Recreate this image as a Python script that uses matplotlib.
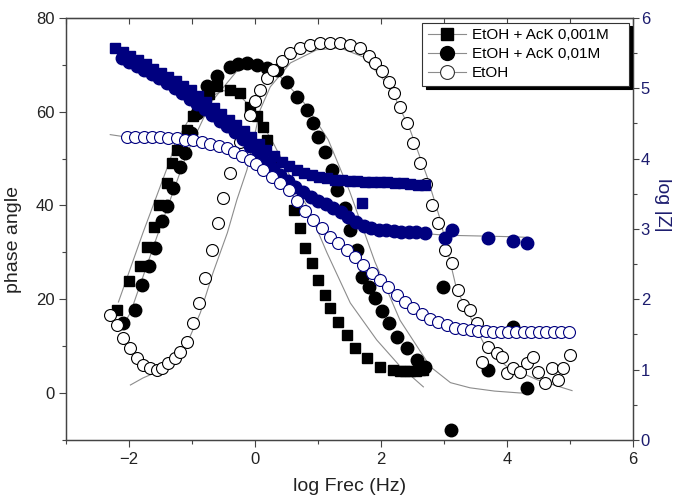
import matplotlib
matplotlib.use("Agg")
import matplotlib.pyplot as plt
from matplotlib.lines import Line2D
from matplotlib.ticker import MultipleLocator

plt.rcParams['font.family'] = ['Liberation Sans', 'DejaVu Sans']

# ---------------- data (left axis: phase angle) ----------------
# EtOH + AcK 0,001M (filled squares)
sq_x = [-2.20, -2.01, -1.83, -1.72, -1.61, -1.53, -1.40, -1.32, -1.24, -1.08, -0.98, -0.85, -0.73,
        -0.61, -0.40, -0.24, -0.08, 0.03, 0.13, 0.19, 0.30, 0.42, 0.61, 0.71, 0.79, 0.90, 1.00,
        1.11, 1.19, 1.32, 1.46, 1.59, 1.77, 1.98, 2.19, 2.30, 2.38, 2.46, 2.55, 2.62, 2.67]
sq_ph = [17.7, 23.8, 27.0, 31.2, 35.5, 40.1, 44.8, 49.0, 51.9, 56.1, 59.0, 61.5, 63.8,
         65.4, 64.6, 64.0, 61.1, 59.0, 56.8, 54.0, 50.0, 45.0, 39.1, 35.2, 30.9, 27.7, 24.1,
         20.9, 18.1, 15.2, 12.4, 9.6, 7.4, 5.6, 4.9, 4.7, 4.6, 4.6, 4.7, 4.8, 4.9]

# EtOH + AcK 0,01M (filled circles)
ci_x = [-2.09, -1.90, -1.80, -1.69, -1.59, -1.48, -1.40, -1.30, -1.19, -1.11, -1.02, -0.93, -0.77,
        -0.61, -0.40, -0.27, -0.13, 0.03, 0.19, 0.35, 0.51, 0.67, 0.83, 0.92, 1.00, 1.11, 1.22,
        1.30, 1.43, 1.51, 1.61, 1.69, 1.80, 1.90, 2.01, 2.12, 2.25, 2.41, 2.57, 2.70,
        2.98, 3.11, 3.70, 4.10, 4.32]
ci_ph = [14.9, 17.7, 23.1, 27.0, 30.9, 36.6, 39.8, 43.7, 48.3, 51.2, 55.5, 59.7, 65.4,
         67.5, 69.6, 70.1, 70.3, 70.0, 69.3, 68.9, 66.4, 63.2, 60.4, 57.6, 54.6, 51.3, 47.6,
         43.3, 39.4, 34.8, 30.5, 24.8, 22.5, 20.2, 17.4, 14.9, 12.0, 9.6, 7.1, 5.6,
         22.5, -7.8, 5.0, 14.0, 1.0]

# EtOH (open circles)
et_x = [-2.30, -2.19, -2.10, -1.98, -1.87, -1.78, -1.67, -1.56, -1.48, -1.38, -1.27, -1.19, -1.08,
        -0.98, -0.89, -0.79, -0.68, -0.59, -0.51, -0.40, -0.24, -0.08, 0.00, 0.08, 0.19, 0.29,
        0.42, 0.56, 0.71, 0.87, 1.03, 1.19, 1.35, 1.51, 1.67, 1.80, 1.90, 2.01, 2.12, 2.20,
        2.30, 2.41, 2.51, 2.62, 2.71, 2.80, 2.91, 3.02, 3.13, 3.22, 3.30, 3.41, 3.52, 3.60,
        3.70, 3.84, 3.92, 4.00, 4.10, 4.20, 4.32, 4.41, 4.49, 4.60, 4.71, 4.81, 4.89, 5.00]
et_ph = [16.7, 14.5, 11.8, 9.6, 7.5, 6.0, 5.4, 5.0, 5.4, 6.4, 7.5, 8.8, 10.9,
         15.0, 19.2, 24.6, 30.5, 36.3, 41.6, 47.0, 53.5, 59.3, 62.2, 64.6, 67.1, 68.9,
         70.7, 72.5, 73.5, 74.2, 74.6, 74.7, 74.6, 74.2, 73.5, 71.8, 70.3, 68.6, 66.4, 63.9,
         61.1, 57.5, 53.3, 49.0, 44.5, 40.1, 36.2, 30.5, 27.8, 22.0, 18.8, 17.7, 15.0, 6.7,
         9.9, 8.6, 7.7, 4.3, 5.4, 4.5, 6.4, 7.7, 4.5, 2.2, 5.4, 2.8, 5.4, 8.1]

# fitted curves (phase)
fit_sq_x = [-2.17, -1.78, -1.35, -1.27, -1.0, -0.75, -0.5, -0.25, 0.0, 0.3, 0.6, 0.83, 1.14,
            1.51, 1.93, 2.30, 2.67]
fit_sq_y = [19.4, 34.2, 49.7, 53.3, 59.5, 63.0, 64.5, 63.5, 60.0, 53.0, 45.0, 39.7, 29.9,
            19.2, 11.3, 5.7, 1.3]
fit_ci_x = [-2.05, -1.98, -1.56, -1.08, -0.7, -0.3, 0.0, 0.4, 0.8, 1.16, 1.5, 1.9, 2.3, 2.78,
            3.10, 3.41, 3.8, 4.2, 4.32]
fit_ci_y = [15.5, 17.1, 33.3, 51.2, 62.0, 68.5, 70.0, 67.5, 61.5, 54.0, 43.0, 28.0, 15.5, 5.6,
            2.2, 1.1, 0.4, 0.0, 0.0]
fit_et_x = [-1.98, -1.78, -1.35, -1.08, -0.87, -0.67, -0.44, -0.29, -0.13, 0.08, 0.24, 0.56,
            0.98, 1.35, 1.71, 2.14, 2.46, 2.73, 2.94, 3.20, 3.68, 4.00, 4.48, 5.03]
fit_et_y = [1.7, 3.2, 5.7, 10.6, 17.1, 25.6, 34.2, 41.2, 47.6, 60.4, 65.3, 70.4,
            73.2, 73.6, 71.7, 65.3, 56.1, 46.1, 36.9, 22.0, 9.2, 5.6, 2.8, 0.5]

# ---------------- data (right axis: log|Z|) ----------------
zsq_x = [-2.22, -2.10, -1.98, -1.86, -1.74, -1.62, -1.50, -1.38, -1.26, -1.14, -1.02, -0.90, -0.78,
         -0.66, -0.54, -0.42, -0.30, -0.18, -0.06, 0.06, 0.18, 0.30, 0.42, 0.54, 0.66, 0.78,
         0.90, 1.02, 1.14, 1.26, 1.38, 1.50, 1.62, 1.70, 1.74, 1.86, 1.98, 2.10, 2.22, 2.34,
         2.46, 2.58, 2.70]
zsq_y = [5.57, 5.52, 5.46, 5.40, 5.34, 5.28, 5.22, 5.16, 5.10, 5.03, 4.97, 4.89, 4.81,
         4.72, 4.63, 4.55, 4.47, 4.39, 4.30, 4.21, 4.12, 4.03, 3.95, 3.89, 3.84, 3.80,
         3.77, 3.74, 3.72, 3.70, 3.69, 3.68, 3.68, 3.37, 3.67, 3.67, 3.66, 3.66, 3.65, 3.65,
         3.64, 3.63, 3.62]

zci_x = [-2.12, -2.00, -1.88, -1.76, -1.64, -1.52, -1.40, -1.28, -1.16, -1.04, -0.92, -0.80, -0.68,
         -0.56, -0.44, -0.32, -0.20, -0.08, 0.04, 0.16, 0.28, 0.40, 0.52, 0.64, 0.76, 0.88,
         1.00, 1.12, 1.24, 1.36, 1.48, 1.60, 1.72, 1.84, 1.96, 2.08, 2.20, 2.32, 2.44, 2.56,
         2.70, 3.02, 3.13, 3.70, 4.10, 4.32]
zci_y = [5.43, 5.37, 5.32, 5.26, 5.20, 5.14, 5.07, 5.01, 4.93, 4.85, 4.77, 4.70, 4.62,
         4.54, 4.46, 4.38, 4.28, 4.18, 4.08, 3.97, 3.87, 3.77, 3.68, 3.60, 3.53, 3.46,
         3.40, 3.35, 3.30, 3.24, 3.17, 3.10, 3.04, 3.01, 2.99, 2.98, 2.97, 2.96, 2.95, 2.95,
         2.94, 2.87, 2.98, 2.87, 2.83, 2.80]

zet_x = [-2.04, -1.90, -1.77, -1.64, -1.51, -1.38, -1.24, -1.11, -0.98, -0.85, -0.71, -0.58, -0.45,
         -0.34, -0.21, -0.08, 0.02, 0.13, 0.27, 0.40, 0.53, 0.67, 0.79, 0.92, 1.06, 1.19,
         1.32, 1.46, 1.59, 1.71, 1.86, 1.98, 2.11, 2.25, 2.38, 2.51, 2.65, 2.78, 2.91, 3.04,
         3.17, 3.30, 3.42, 3.54, 3.66, 3.78, 3.90, 4.02, 4.14, 4.26, 4.38, 4.50, 4.62, 4.74,
         4.86, 4.98]
zet_y = [4.31, 4.31, 4.31, 4.30, 4.30, 4.29, 4.29, 4.27, 4.26, 4.24, 4.21, 4.18, 4.15,
         4.10, 4.04, 3.98, 3.92, 3.84, 3.74, 3.65, 3.55, 3.40, 3.26, 3.13, 3.01, 2.89,
         2.80, 2.70, 2.60, 2.49, 2.37, 2.27, 2.17, 2.06, 1.96, 1.87, 1.79, 1.72, 1.67, 1.63,
         1.59, 1.57, 1.56, 1.55, 1.55, 1.54, 1.54, 1.54, 1.53, 1.53, 1.53, 1.53, 1.53, 1.53,
         1.53, 1.53]

# fitted curves (log|Z|)
zfit_et_x = [-2.30, -2.0, -1.5, -1.0, -0.5, 0.0, 0.5, 1.0, 1.5, 2.0, 2.5, 3.0, 3.5, 4.0, 4.5, 5.03]
zfit_et_y = [4.34, 4.30, 4.28, 4.24, 4.14, 3.93, 3.57, 3.06, 2.67, 2.25, 1.88, 1.65, 1.56, 1.54, 1.53, 1.53]
zfit_ci_x = [-2.12, -1.5, -1.0, -0.5, 0.0, 0.5, 1.0, 1.5, 2.0, 2.5, 3.0, 3.5, 4.0, 4.32]
zfit_ci_y = [5.43, 5.13, 4.83, 4.50, 4.12, 3.70, 3.40, 3.16, 2.99, 2.95, 2.91, 2.90, 2.89, 2.88]

labels = ['EtOH + AcK 0,001M', 'EtOH + AcK 0,01M', 'EtOH']

# ---------------- plotting ----------------
fig = plt.figure(figsize=(6.75, 4.97), dpi=100)
ax = fig.add_axes([0.098, 0.115, 0.840, 0.849])
ax2 = ax.twinx()

navy = '#00007f'
fitc = '#8c8c8c'
spc = '#444444'

# fits (phase)
ax.plot(fit_sq_x, fit_sq_y, color=fitc, lw=0.8, zorder=1)
ax.plot(fit_ci_x, fit_ci_y, color=fitc, lw=0.8, zorder=1)
ax.plot(fit_et_x, fit_et_y, color=fitc, lw=0.8, zorder=1)

ax.plot(sq_x, sq_ph, ls='none', marker='s', ms=7.5, mfc='black', mec='black', zorder=2)
ax.plot(ci_x, ci_ph, ls='none', marker='o', ms=9, mfc='black', mec='black', zorder=3)
ax.plot(et_x, et_ph, ls='none', marker='o', ms=8.6, mfc='white', mec='black', mew=0.8, zorder=4)

# log|Z|
ax2.plot(zfit_et_x, zfit_et_y, color=fitc, lw=0.8, zorder=1)
ax2.plot(zfit_ci_x, zfit_ci_y, color=fitc, lw=0.8, zorder=1)
ax2.plot(zci_x, zci_y, ls='none', marker='o', ms=9, mfc=navy, mec=navy, zorder=2)
ax2.plot(zsq_x, zsq_y, ls='none', marker='s', ms=7.5, mfc=navy, mec=navy, zorder=3)
ax2.plot(zet_x, zet_y, ls='none', marker='o', ms=8.6, mfc='white', mec=navy, mew=0.8, zorder=4)

# axes limits / ticks
ax.set_xlim(-3, 6)
ax.set_ylim(-10, 80)
ax2.set_ylim(0, 6)
ax.xaxis.set_major_locator(MultipleLocator(2))
ax.xaxis.set_minor_locator(MultipleLocator(1))
ax.yaxis.set_major_locator(MultipleLocator(20))
ax.yaxis.set_minor_locator(MultipleLocator(10))
ax2.yaxis.set_major_locator(MultipleLocator(1))
ax2.yaxis.set_minor_locator(MultipleLocator(0.5))

ax.tick_params(axis='both', which='major', direction='out', length=5, width=0.8,
               colors=spc, labelsize=12, labelcolor='#222222')
ax.tick_params(axis='both', which='minor', direction='out', length=3, width=0.8, colors=spc)
ax2.tick_params(axis='y', which='major', direction='out', length=4, width=0.8,
                colors=spc, labelsize=12, labelcolor='#1c1c6e', pad=1.5)
ax2.tick_params(axis='y', which='minor', direction='out', length=3, width=0.8, colors=spc)

top = ax.secondary_xaxis('top')
top.xaxis.set_major_locator(MultipleLocator(2))
top.xaxis.set_minor_locator(MultipleLocator(1))
top.tick_params(which='both', direction='in', length=4, width=0.8, colors=spc, labeltop=False)

for a in (ax, ax2):
    for s in a.spines.values():
        s.set_color(spc)
        s.set_linewidth(0.9)
top.spines['top'].set_color(spc)

ax.set_xlabel('log Frec (Hz)', fontsize=14, color='#222222', labelpad=8)
ax.set_ylabel('phase angle', fontsize=14, color='#222222')
ax.yaxis.set_label_coords(-0.078, 0.474)
ax2.set_ylabel('log |Z|', fontsize=14, color='#1c1c6e', rotation=270, va='center', ha='center')
ax2.yaxis.set_label_coords(1.052, 0.557)

# legend
handles = [
    Line2D([0], [0], color=fitc, lw=0.8, marker='s', ms=9, mfc='black', mec='black'),
    Line2D([0], [0], color=fitc, lw=0.8, marker='o', ms=10, mfc='black', mec='black'),
    Line2D([0], [0], color=fitc, lw=0.8, marker='o', ms=10, mfc='white', mec='#333333', mew=0.8),
]
leg = ax2.legend(handles, labels, loc='upper left', bbox_to_anchor=(0.628, 0.0, 0.364, 0.988),
                 mode='expand', borderaxespad=0, fontsize=11, frameon=True, fancybox=False,
                 framealpha=1, edgecolor='#333333', handlelength=2.5, handletextpad=0.4,
                 labelspacing=0.33, borderpad=0.35,
                 shadow={'color': 'black', 'alpha': 1, 'ox': 2.5, 'oy': -2.5})
leg.get_frame().set_linewidth(0.8)
leg.set_zorder(10)

fig.savefig('out.png', dpi=100)
